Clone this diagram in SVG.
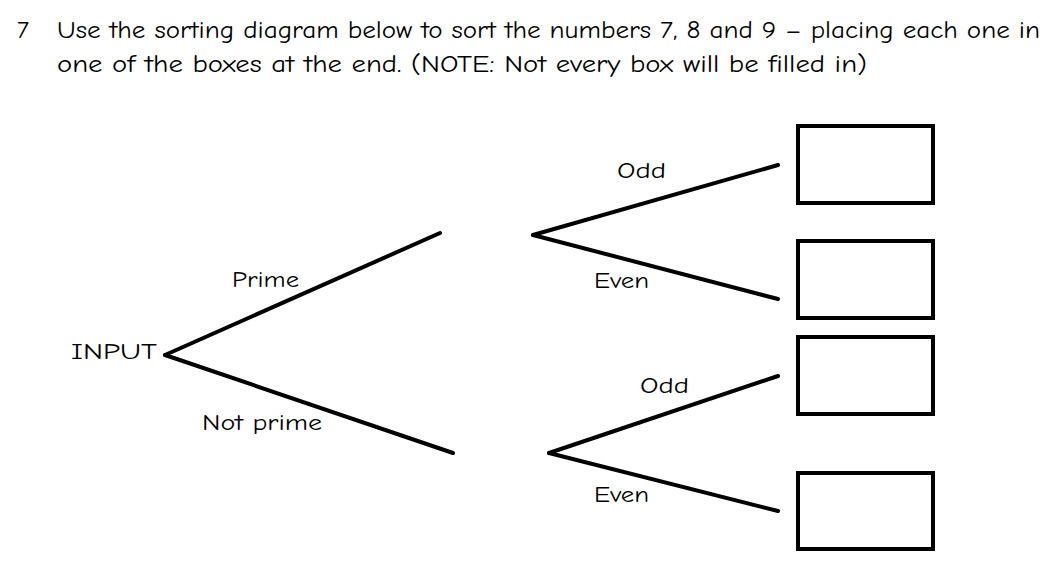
<svg xmlns="http://www.w3.org/2000/svg" width="1050" height="568" viewBox="0 0 1050 568">
<style>
text{font-family:"Comic Neue","DejaVu Sans","Liberation Sans",sans-serif;fill:#000}
.q{font-size:25px}
.l{font-size:23px}
.c line{stroke:#000;stroke-width:4;stroke-linecap:round}
.b rect{fill:#fff;stroke:#000;stroke-width:4}
</style>
<rect width="1050" height="568" fill="#fff"/>
<g id="question">
<text class="q" x="17" y="38">7</text>
<text class="q" x="57" y="38" textLength="983" lengthAdjust="spacingAndGlyphs">Use the sorting diagram below to sort the numbers 7, 8 and 9 – placing each one in</text>
<text class="q" x="57" y="72" textLength="810" lengthAdjust="spacingAndGlyphs">one of the boxes at the end. (NOTE: Not every box will be filled in)</text>
</g>
<g id="connectors" class="c">
<line x1="165" y1="355" x2="440" y2="233"/>
<line x1="165" y1="355" x2="453" y2="453"/>
<line x1="533" y1="235" x2="778" y2="165"/>
<line x1="533" y1="235" x2="778" y2="299"/>
<line x1="549" y1="453" x2="778" y2="376"/>
<line x1="549" y1="453" x2="778" y2="511"/>
</g>
<g id="labels" class="l">
<text id="input" x="71" y="359" textLength="86" lengthAdjust="spacingAndGlyphs">INPUT</text>
<text x="232" y="287" textLength="67" lengthAdjust="spacingAndGlyphs">Prime</text>
<text x="202" y="430" textLength="120" lengthAdjust="spacingAndGlyphs">Not prime</text>
<text x="617" y="178" textLength="49" lengthAdjust="spacingAndGlyphs">Odd</text>
<text x="594" y="288" textLength="55" lengthAdjust="spacingAndGlyphs">Even</text>
<text x="640" y="393" textLength="49" lengthAdjust="spacingAndGlyphs">Odd</text>
<text x="594" y="502" textLength="55" lengthAdjust="spacingAndGlyphs">Even</text>
</g>
<g id="box1" class="b"><rect x="798" y="126" width="135" height="77"/></g>
<g id="box2" class="b"><rect x="798" y="241" width="135" height="77"/></g>
<g id="box3" class="b"><rect x="798" y="337" width="135" height="77"/></g>
<g id="box4" class="b"><rect x="798" y="473" width="135" height="76"/></g>
</svg>
